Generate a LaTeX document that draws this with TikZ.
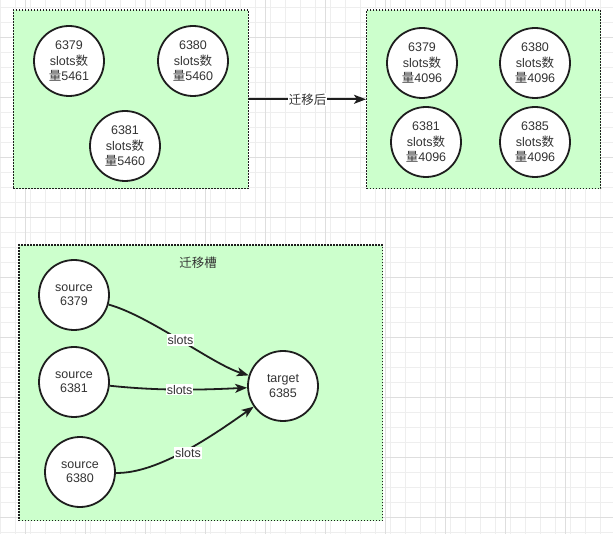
\documentclass[tikz,border=0pt]{standalone}
\usepackage{fontspec}
\setmainfont{Liberation Sans}
\newfontfamily\cjk{Noto Sans CJK SC}
\usetikzlibrary{arrows.meta}
\definecolor{gridminor}{HTML}{EEEEEE}
\definecolor{gridmajor}{HTML}{DEDEDE}
\definecolor{boxfill}{HTML}{CCFFCC}
\definecolor{txt}{HTML}{333333}
\definecolor{ink}{HTML}{1E1E1E}
\tikzset{
  grp/.style={draw=ink, fill=boxfill, line width=1.4pt, dash pattern=on 1.4pt off 1.6pt, inner sep=0pt},
  srv/.style={circle, draw=ink, fill=white, line width=1.8pt, minimum size=70pt, inner sep=0pt, align=center, text=txt, font=\fontsize{12.5}{15.5}\selectfont},
  srvb/.style={srv, font=\fontsize{12.5}{14.5}\selectfont},
  arr/.style={draw=ink, line width=1.8pt, -{Stealth[length=12pt,width=9pt,inset=3pt]}},
  lbl/.style={fill=white, text=txt, inner sep=1pt, font=\fontsize{12.5}{14}\selectfont},
}
\begin{document}
\begin{tikzpicture}[x=1pt,y=-1pt]
\useasboundingbox (0,0) rectangle (613,534);
\fill[white] (0,0) rectangle (613,534);
% grid
\foreach \gx in {0.7,15.7,...,613} \draw[gridminor, line width=0.8pt] (\gx,0) -- (\gx,534);
\foreach \gy in {7.3,22.3,...,534} \draw[gridminor, line width=0.8pt] (0,\gy) -- (613,\gy);
\foreach \gx in {25.7,85.7,...,613} \draw[gridmajor, line width=0.8pt] (\gx,0) -- (\gx,534);
\foreach \gy in {37.3,97.3,...,534} \draw[gridmajor, line width=0.8pt] (0,\gy) -- (613,\gy);

% top-left group
\node[grp, minimum width=235pt, minimum height=178.7pt] (g1) at (130.8,99.3) {};
\node[srv] (a1) at (69,61) {6379\\slots{\cjk 数}\\{\cjk 量}5461};
\node[srv] (a2) at (193,61) {6380\\slots{\cjk 数}\\{\cjk 量}5460};
\node[srv] (a3) at (125,146) {6381\\slots{\cjk 数}\\{\cjk 量}5460};

% top-right group
\node[grp, minimum width=234pt, minimum height=178.7pt] (g2) at (483.7,99.3) {};
\node[srv] (b1) at (422,63) {6379\\slots{\cjk 数}\\{\cjk 量}4096};
\node[srv] (b2) at (535,63) {6380\\slots{\cjk 数}\\{\cjk 量}4096};
\node[srv] (b3) at (426,142) {6381\\slots{\cjk 数}\\{\cjk 量}4096};
\node[srv] (b4) at (535,142) {6385\\slots{\cjk 数}\\{\cjk 量}4096};

\draw[arr] (g1) -- node[lbl]{\cjk 迁移后} (g2);

% bottom group
\node[grp, minimum width=363.5pt, minimum height=275.7pt] (g3) at (200.8,382.9) {};
\node[text=txt, font=\cjk\fontsize{12.5}{14}\selectfont] (title) at (198,262.5) {迁移槽};
\node[srvb] (s1) at (74,295) {source\\6379};
\node[srvb] (s2) at (74,382) {source\\6381};
\node[srvb] (s3) at (80,472) {source\\6380};
\node[srvb] (t) at (283,386) {target\\6385};

\draw[arr] (s1) .. controls (150,316) and (212,364) .. node[lbl, pos=0.5]{slots} (t);
\draw[arr] (s2) .. controls (160,391) and (200,390) .. node[lbl, pos=0.5]{slots} (t);
\draw[arr] (s3) .. controls (158,474) and (215,434) .. node[lbl, pos=0.5, yshift=-2.5pt, xshift=2pt]{slots} (t);
\end{tikzpicture}
\end{document}
